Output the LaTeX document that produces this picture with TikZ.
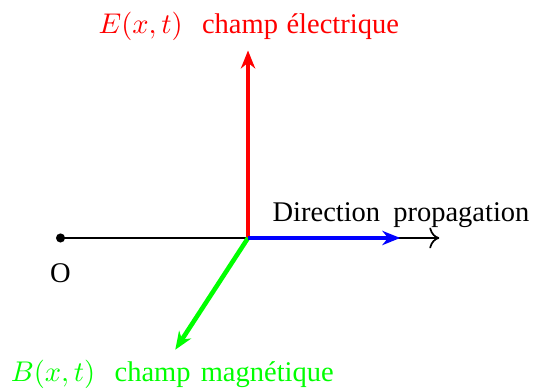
\documentclass[tikz,border=0pt]{standalone}
\usepackage[no-math]{fontspec}
\setmainfont{Liberation Serif}
\usetikzlibrary{arrows.meta, positioning}
\definecolor{champE}{RGB}{255,0,0}
\definecolor{champB}{RGB}{0,255,0}
\definecolor{propblue}{RGB}{0,0,255}
\tikzset{
  axisline/.style={-{To[length=3.5pt]}, semithick},
  field/.style={-{Stealth[length=6.3pt, width=5pt, inset=2pt]}, line width=1.6pt},
  txt/.style={anchor=base, inner sep=0pt},
}

\begin{document}
\begin{tikzpicture}[x=0.925cm, y=0.925cm]
  \useasboundingbox (-3.307,-2.027) rectangle (3.813,3.173);

  \coordinate (orig) at (0,0);
  \node[circle, fill, inner sep=0pt, minimum size=3.2pt] (O) at (-2.5,0) {};
  \coordinate (axisend) at (2.55,0);
  \coordinate (Etip) at (0,2.5);
  \coordinate (Btip) at (-0.97,-1.49);
  \coordinate (vtip) at (2.03,0);

  \draw[axisline] (O.center) -- (axisend);
  \draw[field, champE] (orig) -- (Etip);
  \draw[field, champB] (orig) -- (Btip);
  \draw[field, propblue] (orig) -- (vtip);

  \node[txt, text=champE] (Elabel) at (0.01,2.73)
    {$E(x,t)$\hspace{6.8pt}champ\hspace{3pt}électrique};
  \node[txt] (dirlabel) at (2.04,0.217) {Direction\hspace{4.6pt}propagation};
  \node[txt] (Olabel) at (-2.5,-0.587) {O};
  \node[txt, text=champB] (Blabel) at (-1.01,-1.907)
    {$B(x,t)$\hspace{6.8pt}champ\hspace{3.6pt}magnétique};
\end{tikzpicture}
\end{document}
